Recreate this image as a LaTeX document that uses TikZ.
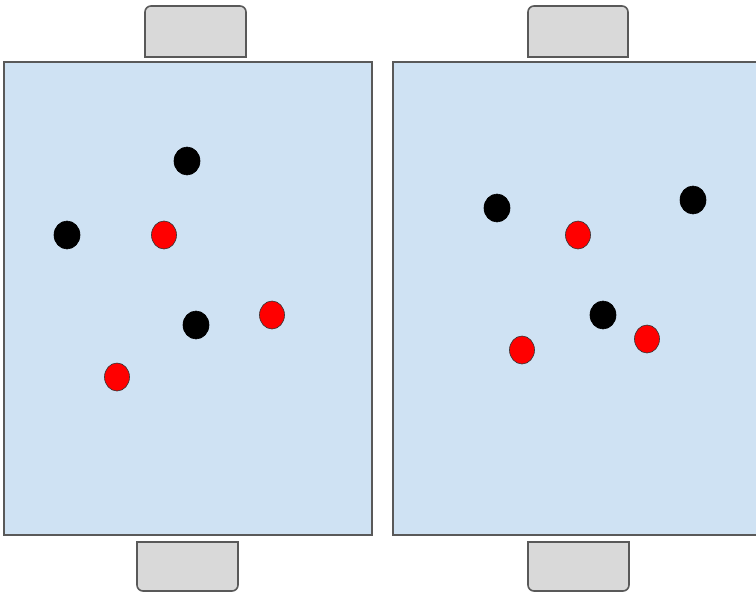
\documentclass[tikz,border=0pt]{standalone}
\usepackage{tikz}
\definecolor{boardfill}{HTML}{CFE2F3}
\definecolor{edge}{HTML}{595959}
\definecolor{tabfill}{HTML}{D9D9D9}
\tikzset{
  board/.style={draw=edge, fill=boardfill, line width=1.6pt},
  tab/.style={draw=edge, fill=tabfill, line width=1.6pt},
  blackdot/.style={draw=black, fill=black, line width=0.6pt},
  reddot/.style={draw=black!80, fill=red, line width=0.6pt},
}
\begin{document}
\begin{tikzpicture}[x=1pt,y=-1pt]
\useasboundingbox (0,0) rectangle (756,594);
\clip (0,0) rectangle (756,594);
% boards
\draw[board] (4,62) rectangle (372,535);
\draw[board] (393,62) rectangle (770,535);
% top tabs (rounded top corners)
\draw[tab] (145,57) [rounded corners=6pt] -- (145,6) -- (246,6) [sharp corners] -- (246,57) -- cycle;
\draw[tab] (528,57) [rounded corners=6pt] -- (528,6) -- (628,6) [sharp corners] -- (628,57) -- cycle;
% bottom tabs (rounded bottom corners)
\draw[tab] (137,542) [rounded corners=6pt] -- (137,591) -- (238,591) [sharp corners] -- (238,542) -- cycle;
\draw[tab] (528,542) [rounded corners=6pt] -- (528,591) -- (629,591) [sharp corners] -- (629,542) -- cycle;
% pieces, left board
\fill[blackdot] (187,161) ellipse [x radius=13, y radius=14];
\fill[blackdot] (67,235) ellipse [x radius=13, y radius=14];
\draw[reddot] (164,235) ellipse [x radius=12.5, y radius=14];
\fill[blackdot] (196,325) ellipse [x radius=13, y radius=14];
\draw[reddot] (272,315) ellipse [x radius=12.5, y radius=14];
\draw[reddot] (117,377) ellipse [x radius=12.5, y radius=14];
% pieces, right board
\fill[blackdot] (497,208) ellipse [x radius=13, y radius=14];
\draw[reddot] (578,235) ellipse [x radius=12.5, y radius=14];
\fill[blackdot] (693,200) ellipse [x radius=13, y radius=14];
\fill[blackdot] (603,315) ellipse [x radius=13, y radius=14];
\draw[reddot] (522,350) ellipse [x radius=12.5, y radius=14];
\draw[reddot] (647,339) ellipse [x radius=12.5, y radius=14];
\end{tikzpicture}
\end{document}
